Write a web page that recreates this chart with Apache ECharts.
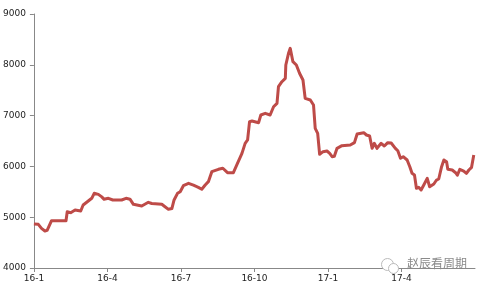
<!DOCTYPE html>
<html>
<head>
<meta charset="utf-8">
<script src="https://cdn.jsdelivr.net/npm/echarts@6/dist/echarts.min.js"></script>
<style>html,body{margin:0;padding:0;background:#fff}#c{width:484px;height:288px}</style>
</head>
<body>
<div id="c"></div>
<script>
// x = months since 2016-01 (fractional), y = price
var months = [0,0.18,0.31,0.45,0.54,0.72,1.31,1.36,1.50,1.68,1.91,2.01,2.18,2.36,2.46,2.63,2.77,2.86,3.04,3.22,3.58,3.76,3.92,4.06,4.40,4.67,4.81,5.22,5.35,5.49,5.63,5.72,5.86,5.97,6.10,6.31,6.51,6.71,6.85,6.99,7.12,7.26,7.53,7.71,7.90,8.14,8.28,8.49,8.62,8.72,8.80,8.90,9.17,9.26,9.44,9.64,9.78,9.92,9.98,10.12,10.26,10.28,10.39,10.46,10.57,10.71,10.84,10.98,11.07,11.28,11.41,11.48,11.58,11.66,11.80,11.96,12.07,12.17,12.26,12.37,12.57,12.91,13.08,13.19,13.46,13.57,13.70,13.80,13.89,14.00,14.17,14.30,14.44,14.58,14.75,14.85,14.96,15.07,15.23,15.34,15.43,15.53,15.61,15.70,15.80,15.91,16.05,16.15,16.32,16.43,16.52,16.63,16.73,16.84,16.89,17.07,17.21,17.28,17.38,17.54,17.65,17.75,17.86,17.95];
var prices = [4866,4860,4781,4728,4740,4931,4931,5108,5089,5142,5122,5240,5305,5372,5470,5450,5400,5352,5372,5339,5339,5372,5355,5254,5220,5293,5270,5254,5207,5155,5170,5339,5470,5502,5620,5667,5630,5588,5550,5634,5700,5896,5943,5963,5876,5876,6028,6257,6454,6520,6880,6893,6860,7012,7044,7012,7175,7241,7569,7667,7734,7996,8226,8324,8061,7996,7833,7700,7340,7307,7209,6750,6651,6238,6290,6303,6257,6191,6200,6356,6408,6421,6467,6638,6664,6618,6598,6356,6454,6356,6454,6402,6467,6460,6356,6309,6160,6191,6126,5994,5864,5831,5569,5588,5535,5634,5765,5600,5654,5732,5752,5982,6126,6092,5943,5929,5876,5825,5943,5909,5864,5929,5982,6224];
var tickMonths = [0,3,6,9,12,15];
var tickLabels = ['16-1','16-4','16-7','16-10','17-1','17-4'];
var yTicks = [4000,5000,6000,7000,8000,9000];

var data = months.map(function(m,i){return [m, prices[i]];});
var chart = echarts.init(document.getElementById('c'), null, {renderer:'canvas'});
chart.setOption({
  animation:false,
  backgroundColor:'#fff',
  grid:{left:33,right:9,top:14,bottom:20,containLabel:false},
  xAxis:{
    type:'value', min:0, max:18,
    axisLine:{show:true,lineStyle:{color:'#888',width:1}},
    axisTick:{show:true,length:4,lineStyle:{color:'#888'},customValues:tickMonths},
    axisLabel:{customValues:tickMonths,color:'#222',fontSize:9,fontFamily:'DejaVu Sans',margin:6,
      formatter:function(v){var i=tickMonths.indexOf(v);return i>=0?tickLabels[i]:'';}},
    splitLine:{show:false}
  },
  yAxis:{
    type:'value', min:4000, max:9000, interval:1000,
    axisLine:{show:true,lineStyle:{color:'#888',width:1}},
    axisTick:{show:true,length:4,lineStyle:{color:'#888'}},
    axisLabel:{color:'#222',fontSize:9,fontFamily:'DejaVu Sans',margin:8,
      customValues:yTicks, formatter:function(v){return String(v);}},
    splitLine:{show:false}
  },
  series:[{
    type:'line', data:data, showSymbol:false, symbol:'none',
    lineStyle:{color:'#BE4B48',width:3,join:'round'},
    z:3
  }],
  graphic:[
    {type:'circle',left:381,top:258,shape:{r:6},style:{fill:'#fff',stroke:'#bbb',lineWidth:1},z:100},
    {type:'circle',left:388,top:263,shape:{r:5},style:{fill:'#fff',stroke:'#bbb',lineWidth:1},z:101},
    {type:'text',left:407,top:257,style:{text:'赵辰看周期',fill:'#8a8a8a',font:'12px "Noto Sans CJK SC"'},z:102}
  ]
});
</script>
</body>
</html>
